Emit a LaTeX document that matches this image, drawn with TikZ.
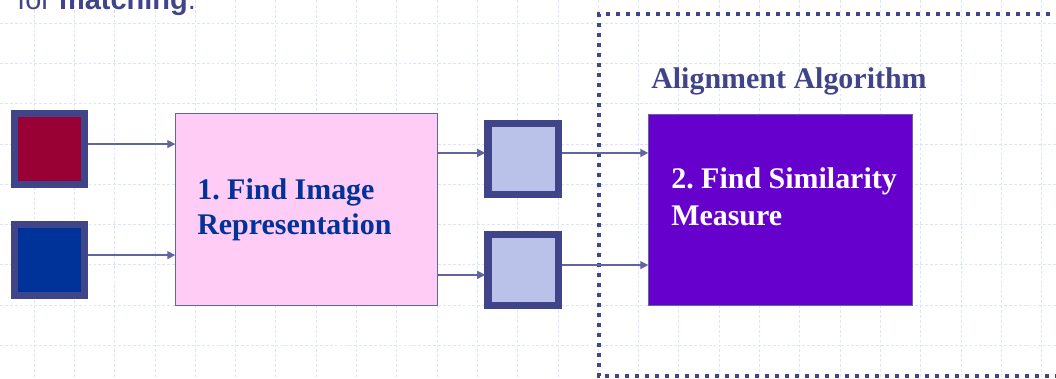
\documentclass[tikz,border=0pt]{standalone}
\usepackage{fontspec}
\setmainfont{Liberation Serif}
\setsansfont{Liberation Sans}
\usetikzlibrary{arrows.meta,calc,positioning}
\definecolor{framecol}{RGB}{64,68,136}
\definecolor{linkcol}{RGB}{96,100,160}
\definecolor{gridcol}{RGB}{220,228,248}
\definecolor{pinkfill}{RGB}{255,204,245}
\definecolor{purplefill}{RGB}{102,0,204}
\definecolor{lavfill}{RGB}{186,194,234}
\definecolor{redfill}{RGB}{153,0,51}
\definecolor{bluefill}{RGB}{0,51,153}
\frenchspacing
\tikzset{
	gridline/.style = {draw=gridcol, line width=0.5pt, dash pattern=on 2pt off 1.5pt},
	imgbox/.style   = {shape=rectangle, draw=framecol, line width=0.175cm,
		minimum size=1.75cm, inner sep=0pt},
	stagebox/.style = {shape=rectangle, draw=linkcol, line width=0.6pt,
		inner sep=0pt},
	stagetext/.style= {font=\bfseries\fontsize{21.3}{25.6}\selectfont,
		align=left, inner sep=0pt, anchor=base west},
	flow/.style     = {draw=linkcol, line width=1pt,
		-{Triangle[length=0.2cm,width=0.2cm]}, shorten >=-0.5pt},
	algframe/.style = {draw=framecol, line width=0.1cm,
		dash pattern=on 0.1cm off 0.15cm}
}

\begin{document}
\begin{tikzpicture}[x=0.025cm,y=-0.025cm]
	\useasboundingbox (0,0) rectangle (1056,379);
	\clip (0,0) rectangle (1056,379);
	% background grid
	\foreach \gx in {0,...,25}
		\draw[gridline] ({34+40.3*\gx},0) -- ({34+40.3*\gx},379);
	\foreach \gy in {0,...,8}
		\draw[gridline] (0,{23+40.3*\gy}) -- (1056,{23+40.3*\gy});

	% caption line running off the top
	\node[anchor=base west, inner sep=0pt, text=framecol,
		font=\sffamily\fontsize{20.6}{24}\selectfont] (caption) at (17,10)
		{for \textbf{matching}.};

	% input images
	\node[imgbox, fill=redfill]  (imgA) at (49.5,149) {};
	\node[imgbox, fill=bluefill] (imgB) at (49.5,260) {};

	% stage 1 (text anchored on its last line)
	\node[stagebox, fill=pinkfill, minimum width=262*0.025cm,
		minimum height=192*0.025cm] (represent) at (306,209) {};
	\node[stagetext, text=bluefill] (representtext) at (197,235)
		{1. Find Image\\Representation};

	% representations
	\node[imgbox, fill=lavfill] (repA) at (523,159) {};
	\node[imgbox, fill=lavfill] (repB) at (523,270) {};

	% stage 2 inside the algorithm frame
	\draw[algframe] (1080,14) -- (598.5,14) -- (598.5,376) -- (1080,376);
	\node[stagetext, text=framecol] (algtitle) at (651,89) {Alignment Algorithm};
	\node[stagebox, fill=purplefill, minimum width=264*0.025cm,
		minimum height=191*0.025cm] (similar) at (780,209.5) {};
	\node[stagetext, text=white,
		font=\bfseries\fontsize{21.3}{27}\selectfont] (similartext) at (671,226)
		{2. Find Similarity\\Measure};

	% connectors
	\draw[flow] ([yshift=3.5pt]imgA.east) -- ([yshift=3.5pt]imgA.east -| represent.west);
	\draw[flow] ([yshift=3.5pt]imgB.east) -- ([yshift=3.5pt]imgB.east -| represent.west);
	\draw[flow] ([yshift=4.3pt]repA.west -| represent.east) -- ([yshift=4.3pt]repA.west);
	\draw[flow] ([yshift=-3.5pt]repB.west -| represent.east) -- ([yshift=-3.5pt]repB.west);
	\draw[flow] ([yshift=4.3pt]repA.east) -- ([yshift=4.3pt]repA.east -| similar.west);
	\draw[flow] ([yshift=3.5pt]repB.east) -- ([yshift=3.5pt]repB.east -| similar.west);
\end{tikzpicture}
\end{document}
